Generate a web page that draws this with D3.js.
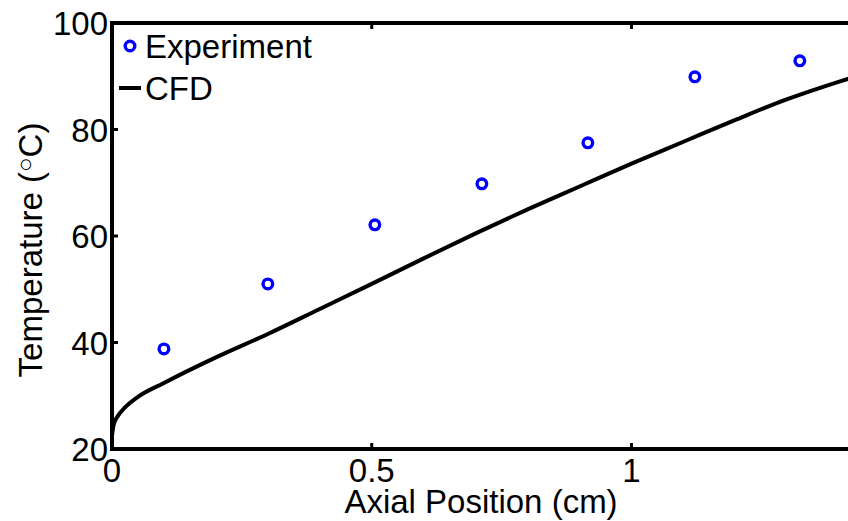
<!DOCTYPE html>
<html>
<head>
<meta charset="utf-8">
<script src="https://cdn.jsdelivr.net/npm/d3@7"></script>
<style>
  html, body { margin: 0; padding: 0; background: #fff; }
  svg { display: block; font-family: "Liberation Sans", Arial, sans-serif; }
</style>
</head>
<body>
<svg id="chart" width="848" height="521"></svg>
<script>
// Measured thermocouple temperatures along the axis
const expX = [0.10, 0.30, 0.506, 0.712, 0.916, 1.122, 1.324];
const expT = [38.8, 51.0, 62.1, 69.8, 77.5, 89.9, 92.9];

// CFD centreline temperature profile
const cfdX = [0, 0.003, 0.01, 0.025, 0.05, 0.1, 0.2, 0.3, 0.4, 0.5, 0.6, 0.7, 0.8, 0.9, 1.0, 1.1, 1.2, 1.3, 1.35, 1.4, 1.43];
const cfdT = [22.5, 24.5, 26.0, 27.8, 29.8, 32.4, 37.2, 41.6, 46.3, 51.0, 55.8, 60.5, 65.0, 69.3, 73.6, 77.7, 81.8, 85.7, 87.4, 89.0, 89.9];

const xTicks = [0, 0.5, 1];
const xTickLabels = ["0", "0.5", "1"];
const yTicks = [20, 40, 60, 80, 100];
const yTickLabels = ["20", "40", "60", "80", "100"];

(function draw() {
  const svg = d3.select("#chart");
  const padL = 112, padT = 23, baseY = 449;
  const x = d3.scaleLinear().domain([0, 1.43]).range([padL, padL + 1.43 * 519.5]);
  const y = d3.scaleLinear().domain([20, 100]).range([baseY, padT]);
  const edgeR = x(1.43);
  const fs = 33;

  // CFD curve
  svg.append("path")
    .datum(cfdX.map((v, i) => [v, cfdT[i]]))
    .attr("fill", "none")
    .attr("stroke", "#000")
    .attr("stroke-width", 4)
    .attr("stroke-linejoin", "round")
    .attr("d", d3.line().x(d => x(d[0])).y(d => y(d[1])).curve(d3.curveMonotoneX));

  // Experimental points
  svg.append("g").selectAll("circle")
    .data(expX.map((v, i) => [v, expT[i]]))
    .join("circle")
    .attr("cx", d => x(d[0]))
    .attr("cy", d => y(d[1]))
    .attr("r", 4.8)
    .attr("fill", "none")
    .attr("stroke", "#0000ff")
    .attr("stroke-width", 3.4);

  // Axes box with inward ticks
  const axes = svg.append("g");
  axes.append("rect")
    .attr("x", padL).attr("y", padT)
    .attr("width", edgeR - padL).attr("height", baseY - padT)
    .attr("fill", "none").attr("stroke", "#000").attr("stroke-width", 4);

  const tl = 6;
  xTicks.forEach(t => {
    axes.append("line").attr("x1", x(t)).attr("x2", x(t))
      .attr("y1", baseY).attr("y2", baseY - tl).attr("stroke", "#000").attr("stroke-width", 3);
    axes.append("line").attr("x1", x(t)).attr("x2", x(t))
      .attr("y1", padT).attr("y2", padT + tl).attr("stroke", "#000").attr("stroke-width", 3);
  });
  yTicks.forEach(t => {
    axes.append("line").attr("x1", padL).attr("x2", padL + tl)
      .attr("y1", y(t)).attr("y2", y(t)).attr("stroke", "#000").attr("stroke-width", 3);
    axes.append("line").attr("x1", edgeR).attr("x2", edgeR - tl)
      .attr("y1", y(t)).attr("y2", y(t)).attr("stroke", "#000").attr("stroke-width", 3);
  });

  // Tick labels
  svg.append("g").selectAll("text")
    .data(xTicks)
    .join("text")
    .attr("x", d => x(d))
    .attr("y", 482)
    .attr("text-anchor", "middle")
    .attr("font-size", fs)
    .text((d, i) => xTickLabels[i]);

  svg.append("g").selectAll("text")
    .data(yTicks)
    .join("text")
    .attr("x", 108)
    .attr("y", d => y(d) + 12)
    .attr("text-anchor", "end")
    .attr("font-size", fs)
    .text((d, i) => yTickLabels[i]);

  // Axis titles
  svg.append("text")
    .attr("x", 481).attr("y", 513)
    .attr("text-anchor", "middle")
    .attr("font-size", fs)
    .text("Axial Position (cm)");

  const yl = svg.append("text")
    .attr("transform", "translate(42,250) rotate(-90)")
    .attr("text-anchor", "middle")
    .attr("font-size", fs);
  yl.append("tspan").text("Temperature (");
  yl.append("tspan").attr("font-size", 24).attr("dy", -9).text("\u25CB");
  yl.append("tspan").attr("dy", 9).text("C)");

  // Legend
  const lg = svg.append("g");
  lg.append("circle").attr("cx", 130).attr("cy", 46).attr("r", 4.8)
    .attr("fill", "none").attr("stroke", "#0000ff").attr("stroke-width", 3.4);
  lg.append("text").attr("x", 145).attr("y", 58).attr("font-size", fs).text("Experiment");
  lg.append("line").attr("x1", 119).attr("x2", 141).attr("y1", 88).attr("y2", 88)
    .attr("stroke", "#000").attr("stroke-width", 4);
  lg.append("text").attr("x", 145).attr("y", 100).attr("font-size", fs).text("CFD");
})();
</script>
</body>
</html>
